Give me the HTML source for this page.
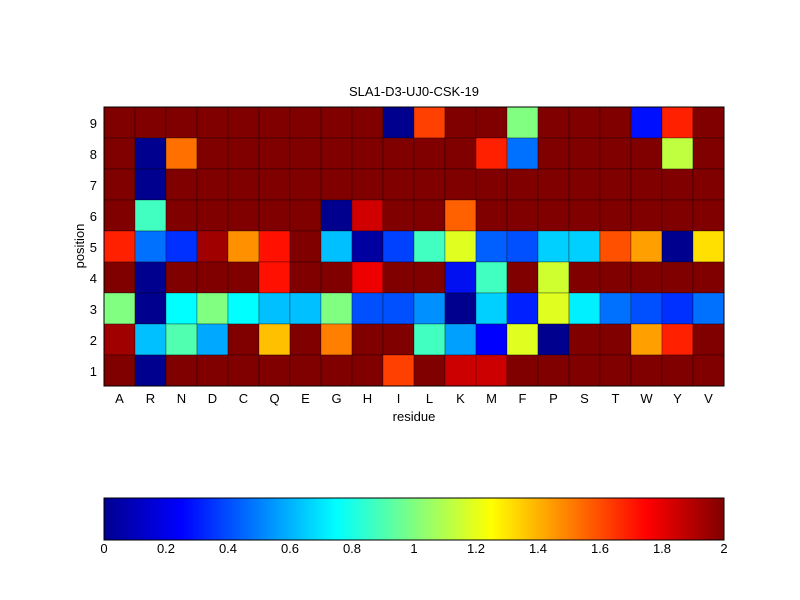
<!DOCTYPE html>
<html><head><meta charset="utf-8"><style>body{margin:0;background:#fff}svg{display:block}text{font-family:"Liberation Sans",sans-serif;font-size:13px;fill:#000}</style></head>
<body>
<svg width="800" height="600" xmlns="http://www.w3.org/2000/svg">
<defs>
<linearGradient id="jet" x1="0" x2="1" y1="0" y2="0">
<stop offset="0" stop-color="#00008f"/>
<stop offset="0.125" stop-color="#0000ff"/>
<stop offset="0.375" stop-color="#00ffff"/>
<stop offset="0.625" stop-color="#ffff00"/>
<stop offset="0.875" stop-color="#ff0000"/>
<stop offset="1" stop-color="#800000"/>
</linearGradient>
</defs>
<text x="414" y="96" text-anchor="middle">SLA1-D3-UJ0-CSK-19</text>
<g id="grid"></g>
<rect x="104" y="107" width="620" height="279" fill="none" stroke="#000" stroke-width="1"/>
<g text-anchor="end">
<text x="97" y="128">9</text><text x="97" y="159">8</text><text x="97" y="190">7</text><text x="97" y="221">6</text><text x="97" y="252">5</text><text x="97" y="283">4</text><text x="97" y="314">3</text><text x="97" y="345">2</text><text x="97" y="376">1</text>
</g>
<g text-anchor="middle" id="xl"></g>
<text x="414" y="421" text-anchor="middle">residue</text>
<text transform="translate(84,246) rotate(-90)" text-anchor="middle">position</text>
<rect x="104" y="498" width="620" height="42" fill="url(#jet)" stroke="#000"/>
<g text-anchor="middle">
<text x="104" y="553">0</text><text x="166" y="553">0.2</text><text x="228" y="553">0.4</text><text x="290" y="553">0.6</text><text x="352" y="553">0.8</text><text x="414" y="553">1</text><text x="476" y="553">1.2</text><text x="538" y="553">1.4</text><text x="600" y="553">1.6</text><text x="662" y="553">1.8</text><text x="724" y="553">2</text>
</g>
</svg>
<script>
var D="#800000",N="#00008f";
var rows=[
[D,D,D,D,D,D,D,D,D,N,"#ff4000",D,D,"#80ff80",D,D,D,"#0010ff","#ff2000",D],
[D,N,"#ff7000",D,D,D,D,D,D,D,D,D,"#ff2000","#0070ff",D,D,D,D,"#c0ff40",D],
[D,N,D,D,D,D,D,D,D,D,D,D,D,D,D,D,D,D,D,D],
[D,"#40ffc0",D,D,D,D,D,N,"#d00000",D,D,"#ff6000",D,D,D,D,D,D,D,D],
["#ff2000","#0070ff","#0030ff","#a00000","#ff9000","#ff1000",D,"#00c0ff","#0000a0","#0040ff","#40ffc0","#e0ff20","#0060ff","#0050ff","#00d0ff","#00d0ff","#ff5000","#ffa000",N,"#ffe000"],
[D,N,D,D,D,"#ff1000",D,D,"#ee0000",D,D,"#0010f0","#40ffc0",D,"#d0ff30",D,D,D,D,D],
["#80ff80",N,"#00ffff","#80ff80","#00ffff","#00c0ff","#00c0ff","#80ff80","#0050ff","#0050ff","#0090ff",N,"#00d0ff","#0020ff","#e0ff20","#00f0ff","#0070ff","#0050ff","#0030ff","#0070ff"],
["#a00000","#00c0ff","#50ffb0","#00a8ff",D,"#ffc000",D,"#ff8000",D,D,"#40ffc0","#00a0ff","#0000ff","#e0ff20",N,D,D,"#ffa000","#ff2000",D],
[D,N,D,D,D,D,D,D,D,"#ff4000",D,"#cc0000","#cc0000",D,D,D,D,D,D,D]];
var g=document.getElementById("grid"),s="";
rows.forEach(function(r,i){r.forEach(function(c,j){s+='<rect x="'+(104+j*31)+'" y="'+(107+i*31)+'" width="31" height="31" fill="'+c+'" stroke="#000" stroke-width="0.6" stroke-opacity="0.5"/>';});});
g.innerHTML=s;
var L="ARNDCQEGHILKMFPSTWYV",t="";
for(var j=0;j<20;j++)t+='<text x="'+(119.5+j*31)+'" y="403">'+L[j]+'</text>';
document.getElementById("xl").innerHTML=t;
</script>
</body></html>
